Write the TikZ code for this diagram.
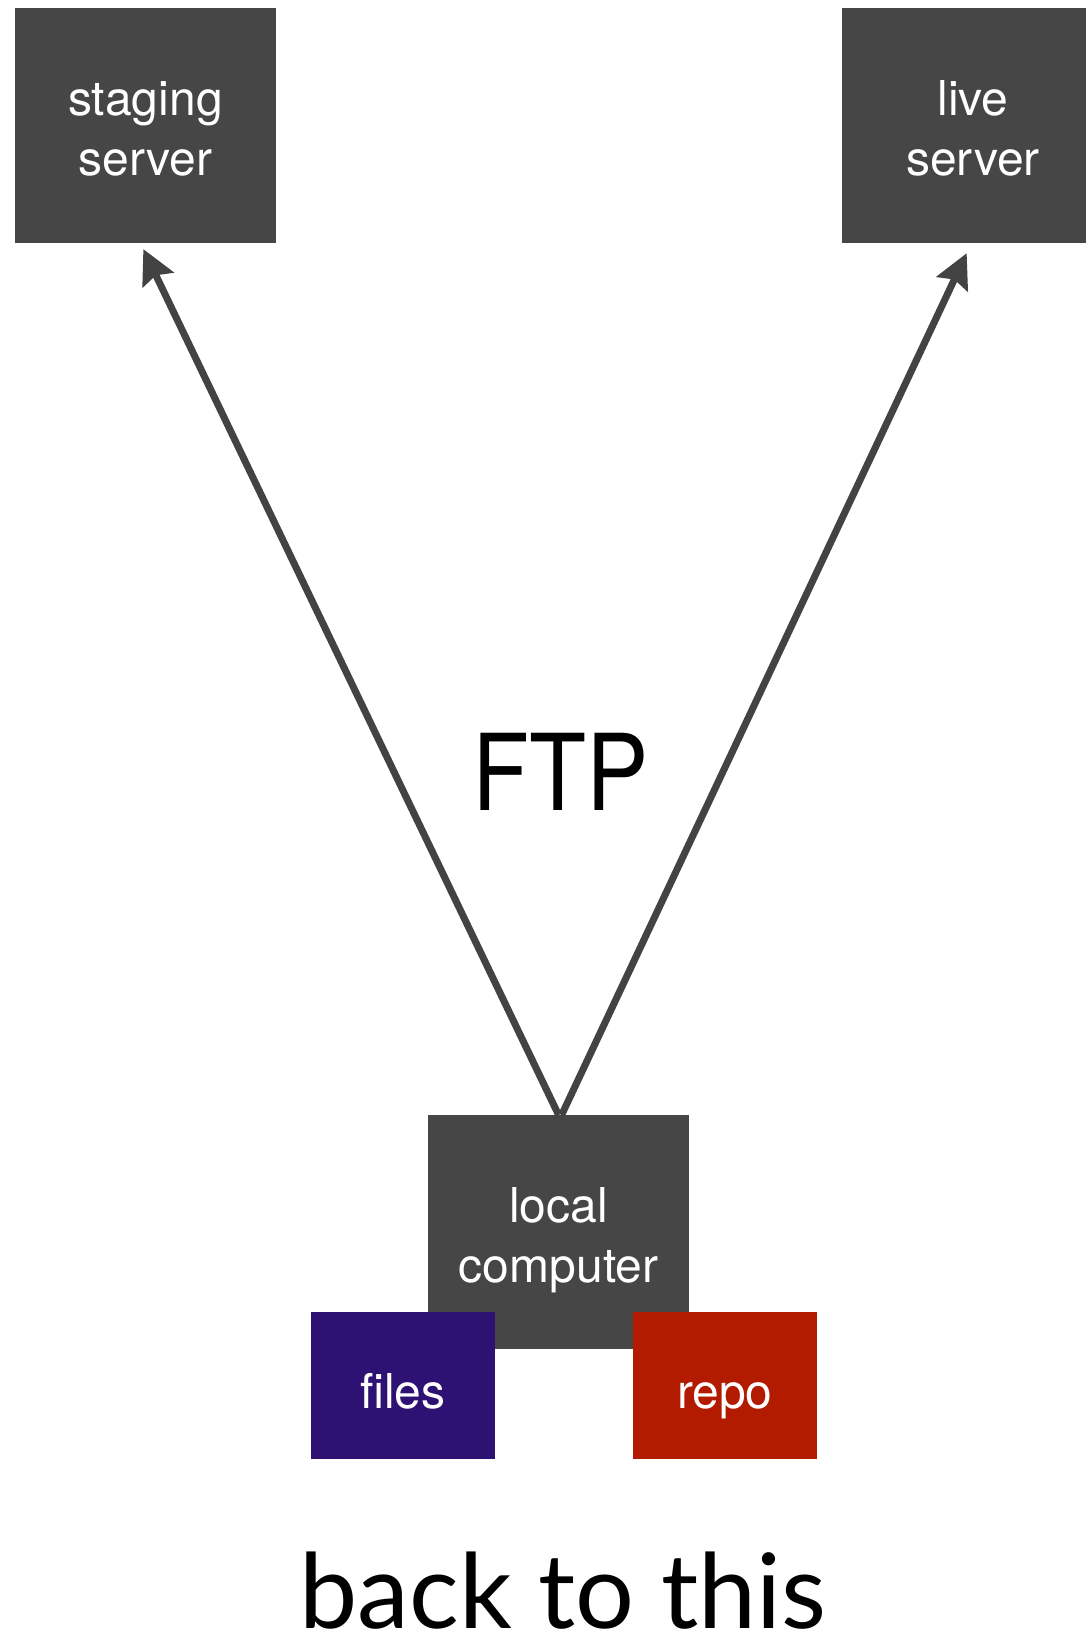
\documentclass[tikz,border=0pt]{standalone}
\usepackage{graphicx}
\usepackage{fontspec}
\setmainfont{TeX Gyre Heros}
\newfontfamily\titlefont{Lato}
\usetikzlibrary{arrows.meta}
\definecolor{boxgray}{HTML}{464646}
\definecolor{linegray}{HTML}{434343}
\definecolor{filesblue}{HTML}{2D1273}
\definecolor{repored}{HTML}{B31B00}
% two centred lines, last baseline 50pt below the box centre
\newcommand\twolines[2]{\raisebox{0pt}[100pt][0pt]{\begin{tabular}[b]{@{}c@{}}#1\\#2\end{tabular}}}
% one line, baseline 23pt below the box centre
\newcommand\oneline[1]{\raisebox{0pt}[46pt][0pt]{#1}}
\tikzset{
  machine/.style={fill=boxgray, text=white, inner sep=0pt,
    font=\fontsize{48}{60}\selectfont},
  store/.style={inner sep=0pt, text=white,
    minimum width=184.4pt, minimum height=146.5pt, font=\fontsize{48}{60}\selectfont},
  push/.style={draw=linegray, line width=7pt,
    -{Stealth[length=34pt, width=34pt, inset=5pt]}}
}
\begin{document}
\begin{tikzpicture}[x=1pt, y=-1pt]
  \useasboundingbox (0,0) rectangle (1086,1634);
  % servers
  \node[machine, minimum width=261.6pt, minimum height=234.5pt] (staging) at (145.4,125.5) {\twolines{staging}{server}};
  \node[machine, minimum width=262pt, minimum height=234.5pt] (live) at (973,125.5) {\twolines{live}{server}};
  % local machine with its working copies
  \node[machine, minimum width=260.6pt, minimum height=233.6pt] (local) at (558.6,1232) {\twolines{local}{computer}};
  \node[store, fill=filesblue] (files) at (402.8,1385.3) {\oneline{files}};
  \node[store, fill=repored] (repo) at (724.8,1385.3) {\oneline{repo}};
  % uploads
  \draw[push, shorten >=6.8pt] (local.north) -- ([xshift=-5pt]staging.south);
  \draw[push, shorten >=11.3pt] ([xshift=3pt]local.north) -- ([xshift=-1.5pt]live.south);
  % labels
  \node[font=\fontsize{106}{110}\selectfont] (ftp) at (561,772) {\scalebox{0.88}[1]{FTP}};
  \node[font=\titlefont\fontsize{104}{110}\selectfont, anchor=base, text depth=0pt, inner sep=0pt] (caption) at (563,1628) {back to this};
\end{tikzpicture}
\end{document}
